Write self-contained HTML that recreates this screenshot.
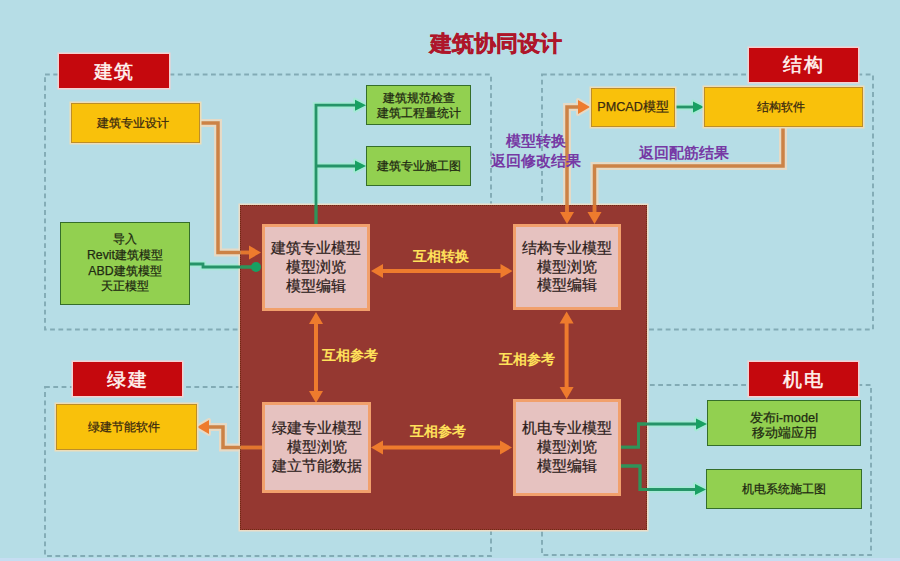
<!DOCTYPE html>
<html><head><meta charset="utf-8">
<style>
*{box-sizing:border-box;margin:0;padding:0}
html,body{width:900px;height:561px;overflow:hidden}
body{position:relative;background:#B6DDE6;font-family:"Liberation Sans",sans-serif;color:#2a2018}
svg.a{position:absolute;left:0;top:0;width:900px;height:561px}
.lbl{position:absolute;background:#C5080D;box-shadow:0 0 0 1.5px #F4D2D2;color:#FFF4F0;font-family:"Liberation Serif",serif;font-size:19px;font-weight:normal;-webkit-text-stroke:0.5px #FFF4F0;display:flex;align-items:center;justify-content:center;letter-spacing:1.5px;padding-top:1px}
.yb{position:absolute;background:#F9C10B;border:1.5px solid #BC8E2A;box-shadow:0 0 0 1.5px #EEDDB8;display:flex;align-items:center;justify-content:center;text-align:center;font-size:12.3px;line-height:15px;color:#3a2a10;-webkit-text-stroke:0.25px #3a2a10;padding-right:5px}
.gb{position:absolute;background:#92D050;border:1.7px solid #356E2A;display:flex;align-items:center;justify-content:center;text-align:center;font-size:12.3px;line-height:15.5px;color:#1f2a12;-webkit-text-stroke:0.25px #1f2a12;padding-top:2px}
.pb{position:absolute;background:#E6C2C0;border:3px solid #F1A06C;display:flex;align-items:center;justify-content:center;text-align:center;font-size:14.7px;line-height:18.7px;color:#2e1e1c;-webkit-text-stroke:0.25px #2e1e1c}
.dark{position:absolute;left:240px;top:204.6px;width:407px;height:325.4px;background:#953831;border:1px dotted #6E2A12;box-shadow:0 0 0 1.5px #EBDDC8}
.yt{position:absolute;color:#FFE15A;font-weight:bold;font-size:14.2px;white-space:nowrap;transform:translate(-50%,-50%)}
.pt{position:absolute;color:#7639A4;font-weight:bold;font-size:14.5px;white-space:nowrap;transform:translate(-50%,-50%);text-align:center;line-height:20px}
.title{position:absolute;left:430px;top:28.5px;width:130px;color:#AE162A;-webkit-text-stroke:0.5px #AE162A;font-weight:bold;font-size:21.5px;white-space:nowrap}
</style></head><body>
<svg class="a" viewBox="0 0 900 561">

<rect x="0" y="558" width="900" height="3" fill="#C6DDF2"/>
<g fill="none" stroke="#82ABB5" stroke-width="1.9" stroke-dasharray="4.8 3.5">
<rect x="45" y="74.5" width="446" height="255"/>
<rect x="542" y="74.5" width="331" height="255"/>
<rect x="45" y="387" width="446" height="169"/>
<rect x="542" y="385" width="329" height="170"/>
</g>
<g fill="none" stroke="#E6DAC6" stroke-width="8"><polyline points="200,123 218,123 218,252.5 252,252.5"/>
<polyline points="567,214 567,107 582,107"/>
<polyline points="783,127 783,166 594.5,166 594.5,214"/>
<polyline points="262,447.5 223,447.5 223,427 208,427"/></g>
<g fill="#E6DAC6" stroke="#E6DAC6" stroke-width="4" stroke-linejoin="round"><polygon points="261,252.5 249,245.5 249,259.5"/>
<polygon points="567,224 560,212 574,212"/>
<polygon points="594.5,224 587.5,212 601.5,212"/>
<polygon points="590,107 578,100 578,114"/>
<polygon points="197,427 209,420 209,434"/></g>
<g fill="none" stroke="#A6E9D6" stroke-width="6.5"><polyline points="316,224 316,105.2 356,105.2"/>
<polyline points="316,166 356,166"/>
<polyline points="190,264 203,264 203,267 252,267"/>
<polyline points="675,107 694,107"/>
<polyline points="621,447.2 638.5,447.2 638.5,424 697,424"/>
<polyline points="621,466 640,466 640,489.5 696,489.5"/></g>
<g fill="#A6E9D6" stroke="#A6E9D6" stroke-width="4" stroke-linejoin="round"><polygon points="366,105.2 355,99.7 355,110.7"/>
<polygon points="366,166 355,160.5 355,171.5"/>
<polygon points="704,107 693,101.5 693,112.5"/>
<polygon points="707,424 696,418.5 696,429.5"/>
<polygon points="706,489.5 695,484 695,495"/>
<circle cx="256" cy="267" r="5"/></g>
</svg>
<div class="dark"></div>
<svg class="a" viewBox="0 0 900 561">
<g fill="none" stroke="#CC8246" stroke-width="3.5"><polyline points="200,123 218,123 218,252.5 252,252.5"/>
<polyline points="567,214 567,107 582,107"/>
<polyline points="783,127 783,166 594.5,166 594.5,214"/>
<polyline points="262,447.5 223,447.5 223,427 208,427"/></g>
<g fill="none" stroke="#259468" stroke-width="2.8"><polyline points="316,224 316,105.2 356,105.2"/>
<polyline points="316,166 356,166"/>
<polyline points="190,264 203,264 203,267 252,267"/>
<polyline points="675,107 694,107"/>
<polyline points="621,447.2 638.5,447.2 638.5,424 697,424"/>
<polyline points="621,466 640,466 640,489.5 696,489.5"/></g>
<clipPath id="dk"><rect x="241" y="205" width="405" height="324"/></clipPath>
<g clip-path="url(#dk)"><g fill="none" stroke="#E2762E" stroke-width="3.5"><polyline points="200,123 218,123 218,252.5 252,252.5"/>
<polyline points="567,214 567,107 582,107"/>
<polyline points="783,127 783,166 594.5,166 594.5,214"/>
<polyline points="262,447.5 223,447.5 223,427 208,427"/></g><g fill="none" stroke="#2F9458" stroke-width="2.8"><polyline points="316,224 316,105.2 356,105.2"/>
<polyline points="316,166 356,166"/>
<polyline points="190,264 203,264 203,267 252,267"/>
<polyline points="675,107 694,107"/>
<polyline points="621,447.2 638.5,447.2 638.5,424 697,424"/>
<polyline points="621,466 640,466 640,489.5 696,489.5"/></g></g>
<g fill="#EE7B2D"><polygon points="261,252.5 249,245.5 249,259.5"/>
<polygon points="567,224 560,212 574,212"/>
<polygon points="594.5,224 587.5,212 601.5,212"/>
<polygon points="590,107 578,100 578,114"/>
<polygon points="197,427 209,420 209,434"/></g>
<g fill="#18A062"><polygon points="366,105.2 355,99.7 355,110.7"/>
<polygon points="366,166 355,160.5 355,171.5"/>
<polygon points="704,107 693,101.5 693,112.5"/>
<polygon points="707,424 696,418.5 696,429.5"/>
<polygon points="706,489.5 695,484 695,495"/>
<circle cx="256" cy="267" r="5"/></g>
<g fill="none" stroke="#EE7B2D" stroke-width="4">
<line x1="380" y1="271" x2="503" y2="271"/>
<line x1="316" y1="322" x2="316" y2="393"/>
<line x1="566.6" y1="321" x2="566.6" y2="389"/>
<line x1="380" y1="447.5" x2="503" y2="447.5"/>
</g>
<g fill="#EE7B2D">
<polygon points="371,271 383,264 383,278"/>
<polygon points="512.5,271 500.5,264 500.5,278"/>
<polygon points="316,312 309,324 323,324"/>
<polygon points="316,403 309,391 323,391"/>
<polygon points="566.6,311.5 559.6,323.5 573.6,323.5"/>
<polygon points="566.6,399 559.6,387 573.6,387"/>
<polygon points="371,447.5 383,440.5 383,454.5"/>
<polygon points="512,447.5 500,440.5 500,454.5"/>
</g>
</svg>
<div class="lbl" style="left:59px;top:54px;width:110px;height:34px">建筑</div>
<div class="lbl" style="left:749px;top:47.5px;width:109px;height:34px">结构</div>
<div class="lbl" style="left:73px;top:362px;width:109px;height:34px">绿建</div>
<div class="lbl" style="left:749px;top:362px;width:109px;height:34px">机电</div>
<div class="title">建筑协同设计</div>
<div class="yb" style="left:71px;top:103px;width:129px;height:40px">建筑专业设计</div>
<div class="yb" style="left:591px;top:87.5px;width:84px;height:39px;padding-right:0;font-size:12.6px">PMCAD模型</div>
<div class="yb" style="left:704px;top:87px;width:159px;height:40px">结构软件</div>
<div class="yb" style="left:56px;top:404px;width:141px;height:46px">绿建节能软件</div>
<div class="gb" style="left:60px;top:222px;width:130px;height:83px;padding-top:0;line-height:15.9px">导入<br>Revit建筑模型<br>ABD建筑模型<br>天正模型</div>
<div class="gb" style="left:366px;top:85px;width:105px;height:40px">建筑规范检查<br>建筑工程量统计</div>
<div class="gb" style="left:366px;top:146px;width:105px;height:40px">建筑专业施工图</div>
<div class="gb" style="left:707px;top:400px;width:154px;height:46px;padding-top:4px;font-size:12.8px">发布i-model<br>移动端应用</div>
<div class="gb" style="left:706px;top:469px;width:156px;height:40px;padding-top:2px">机电系统施工图</div>
<div class="pb" style="left:262px;top:224px;width:108px;height:87px">建筑专业模型<br>模型浏览<br>模型编辑</div>
<div class="pb" style="left:513px;top:224px;width:108px;height:86px">结构专业模型<br>模型浏览<br>模型编辑</div>
<div class="pb" style="left:262px;top:402px;width:109px;height:91px">绿建专业模型<br>模型浏览<br>建立节能数据</div>
<div class="pb" style="left:513px;top:399px;width:108px;height:97px">机电专业模型<br>模型浏览<br>模型编辑</div>
<div class="yt" style="left:441px;top:256px">互相转换</div>
<div class="yt" style="left:350px;top:355px">互相参考</div>
<div class="yt" style="left:527px;top:359px">互相参考</div>
<div class="yt" style="left:438px;top:430.5px">互相参考</div>
<div class="pt" style="left:535.5px;top:150.5px">模型转换<br>返回修改结果</div>
<div class="pt" style="left:684px;top:153px">返回配筋结果</div>
</body></html>
